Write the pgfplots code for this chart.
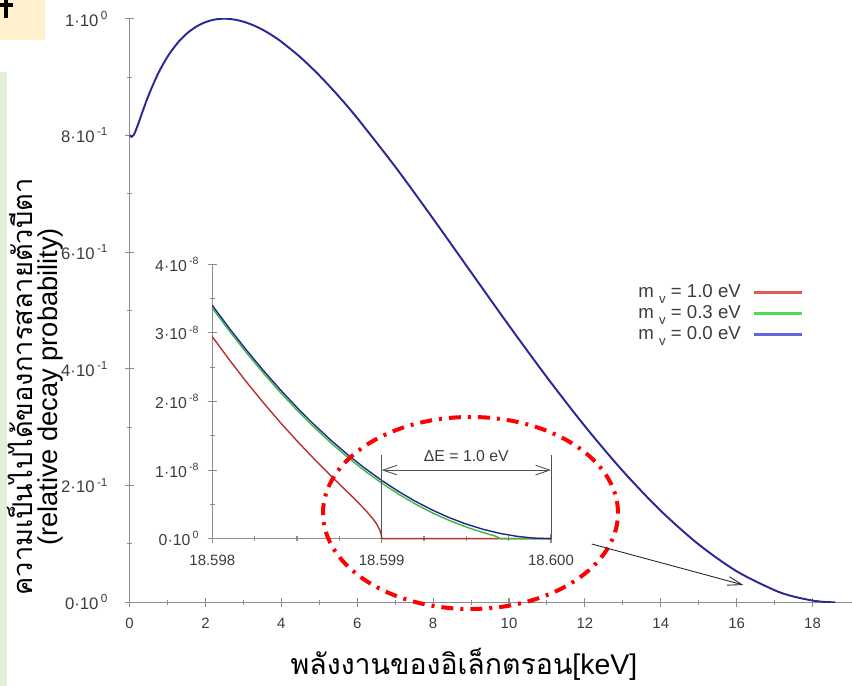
\documentclass[border=0pt]{standalone}
\usepackage{fontspec}
\setmainfont{Liberation Sans}
\newfontfamily\thaifont[Script=Thai]{Loma}
\usepackage{pgfplots}
\pgfplotsset{compat=1.18}
\usetikzlibrary{arrows.meta}

\definecolor{curveblue}{RGB}{40,40,150}
\definecolor{insred}{RGB}{180,50,50}
\definecolor{insgreen}{RGB}{60,185,60}
\definecolor{insblue}{RGB}{30,40,140}
\definecolor{legred}{RGB}{225,90,90}
\definecolor{leggreen}{RGB}{80,220,80}
\definecolor{legblue}{RGB}{100,100,225}
\definecolor{ticktext}{RGB}{60,60,60}
\definecolor{axisgray}{RGB}{140,140,140}
\definecolor{annot}{RGB}{80,80,80}
\definecolor{slideyellow}{RGB}{255,240,206}
\definecolor{slidegreen}{RGB}{226,239,218}

% tritium beta spectrum, normalised to the maximum
\pgfplotstableread{
E      y
0      0.8006
0.02   0.7989
0.05   0.7976
0.1    0.8001
0.15   0.8065
0.25   0.8238
0.35   0.8423
0.5    0.8687
0.75   0.9058
1      0.9349
1.25   0.9573
1.5    0.9741
1.75   0.9861
2      0.9941
2.25   0.9986
2.5    1.0000
2.75   0.9986
3      0.9949
3.25   0.9890
3.5    0.9813
3.75   0.9717
4      0.9605
4.5    0.9340
5      0.9028
5.5    0.8678
6      0.8296
7      0.7464
8      0.6572
9      0.5655
10     0.4741
11     0.3855
12     0.3017
13     0.2249
14     0.1568
15     0.0991
16     0.0532
17     0.0207
17.5   0.0099
18     0.0030
18.3   0.00075
18.5   0.00008
18.6   0
}\spectrum

\newcommand{\sci}[2]{#1·10\kern0.15em\textsuperscript{#2}}
\newcommand{\mnu}{m \raisebox{-0.6ex}{\fontsize{7.5}{8}\selectfont v}}

\pgfplotsset{
  slide axis/.style={
    scale only axis,
    axis lines=left,
    axis line style={draw=axisgray, line width=0.7pt, -},
    tick style={draw=axisgray, line width=0.6pt},
    major tick length=0.18cm, minor tick length=0.1cm,
    tick label style={font=\fontsize{8.5}{10}\selectfont, text=ticktext},
    /pgf/number format/assume math mode=true,
  }
}

\begin{document}
\begin{tikzpicture}
\path[use as bounding box] (0,0) rectangle (17.04cm,13.72cm);

% slide decoration
\fill[slideyellow] (0,13.72cm) rectangle (0.9cm,12.92cm);
\fill[black] (0.08cm,13.72cm) rectangle (0.16cm,13.36cm);
\fill[black] (0,13.66cm) rectangle (0.26cm,13.58cm);
\fill[slidegreen] (0,0) rectangle (0.14cm,12.28cm);

\begin{axis}[slide axis,
  at={(2.592cm,1.674cm)}, anchor=south west,
  width=14.448cm, height=11.672cm,
  xmin=0, xmax=19.04, ymin=0, ymax=1,
  xtick={0,2,...,18}, minor x tick num=1,
  ytick={0,0.2,0.4,0.6,0.8,1}, minor y tick num=1,
  yticklabels={\sci{0}{0}, \sci{2}{-1}, \sci{4}{-1}, \sci{6}{-1},
    \sci{8}{-1}, \sci{1}{0}},
  xticklabel style={yshift=-3pt},
  yticklabel style={xshift=-6pt, font=\fontsize{9.5}{11}\selectfont},
  legend style={at={(0.933,0.5454)}, anchor=north east,
    draw=none, fill=none, inner sep=0pt, outer sep=0pt,
    font=\fontsize{10.6}{12}\selectfont, text=ticktext,
    nodes={inner sep=0pt, text height=0.27cm, text depth=0.07cm},
    row sep=0.08cm, column sep=0.24cm},
  legend cell align=left,
  legend plot pos=right,
  legend image code/.code={\draw[#1] (0cm,0cm) -- (0.96cm,0cm);},
]
\addlegendimage{legred, line width=1.2pt}
\addlegendentry{\mnu{} = 1.0 eV}
\addlegendimage{leggreen, line width=1.2pt}
\addlegendentry{\mnu{} = 0.3 eV}
\addlegendimage{legblue, line width=1.6pt}
\addlegendentry{\mnu{} = 0.0 eV}
\addplot[curveblue, line width=1.1pt, smooth, forget plot] table[x=E, y=y] {\spectrum};
\end{axis}

% inset: end point region, x in eV above 18.598 keV, y in units of 1e-8
\begin{axis}[slide axis,
  at={(4.246cm,2.946cm)}, anchor=south west,
  width=6.774cm, height=5.488cm,
  xmin=0, xmax=2, ymin=0, ymax=4,
  xtick={0,1,2}, xticklabels={18.598,18.599,18.600}, minor x tick num=3,
  ytick={0,1,2,3,4}, minor y tick num=1,
  yticklabels={\sci{0}{0}, \sci{1}{-8}, \sci{2}{-8}, \sci{3}{-8}, \sci{4}{-8}},
  xticklabel style={yshift=-3pt},
  yticklabel style={xshift=-1.2pt, font=\fontsize{9}{11}\selectfont},
  clip=false,
]
\addplot[insred, line width=0.8pt] coordinates {
  (0,2.9445)(0.1,2.6091)(0.2,2.2899)(0.3,1.9866)(0.4,1.6986)(0.5,1.4255)
  (0.6,1.1660)(0.7,0.9179)(0.8,0.6766)(0.85,0.5551)(0.9,0.4285)(0.95,0.2857)
  (0.97,0.2161)(0.99,0.1217)(0.998,0.0539)(1,0)(2,0)};
\addplot[insgreen, line width=0.8pt] coordinates {
  (0,3.3615)(0.1,3.0300)(0.2,2.7155)(0.3,2.4180)(0.4,2.1374)(0.5,1.8738)
  (0.6,1.6273)(0.7,1.3977)(0.8,1.1851)(0.9,0.9895)(1,0.8108)(1.1,0.6491)
  (1.2,0.5043)(1.3,0.3763)(1.4,0.2650)(1.5,0.1700)(1.55,0.1283)(1.6,0.0900)
  (1.65,0.0536)(1.68,0.0303)(1.7,0)(2,0)};
\addplot[insblue, line width=0.8pt] coordinates {
  (0,3.4)(0.1,3.0685)(0.2,2.754)(0.3,2.4565)(0.4,2.176)(0.5,1.9125)
  (0.6,1.666)(0.7,1.4365)(0.8,1.224)(0.9,1.0285)(1,0.85)(1.1,0.6885)
  (1.2,0.544)(1.3,0.4165)(1.4,0.306)(1.5,0.2125)(1.6,0.136)(1.7,0.0765)
  (1.8,0.034)(1.9,0.0085)(2,0)};
\draw[annot, line width=0.5pt] (axis cs:1,0) -- (axis cs:1,1.22);
\draw[annot, line width=0.5pt] (axis cs:2,0) -- (axis cs:2,1.22);
\draw[annot, line width=0.5pt,
  {Straight Barb[length=8pt,width=5.5pt]}-{Straight Barb[length=8pt,width=5.5pt]}]
  (axis cs:1,1) -- (axis cs:2,1);
\node[font=\fontsize{9}{11}\selectfont, text=ticktext] at (axis cs:1.5,1.2)
  {ΔE = 1.0 eV};
\end{axis}

% highlight ellipse and pointer
\draw[red, line width=0.08cm, dash pattern=on 0.24cm off 0.14cm on 0.06cm off 0.14cm]
  (9.41cm,3.46cm) ellipse (2.95cm and 1.92cm);
\draw[black!85, line width=0.5pt, -{Straight Barb[length=8pt,width=5pt]}]
  (11.834cm,2.84cm) -- (14.866cm,2.02cm);

% axis titles of the slide
\node[anchor=base, font=\fontsize{16.2}{19}\selectfont, inner sep=0pt] at (9.28cm,0.22cm)
  {{\thaifont พลังงานของอิเล็กตรอน}[keV]};
\node[rotate=90, font=\fontsize{15.5}{18}\selectfont] at (0.4cm,5.98cm)
  {\thaifont ความเป็นไปได้ของการสลายตัวบีตา};
\node[rotate=90, font=\fontsize{15.5}{18}\selectfont] at (1.0cm,5.98cm)
  {(relative decay probability)};
\end{tikzpicture}
\end{document}
